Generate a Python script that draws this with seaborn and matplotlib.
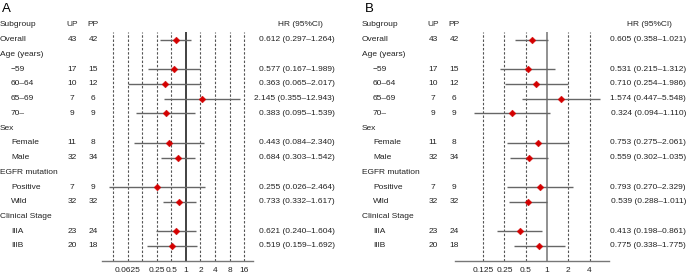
import numpy as np
import pandas as pd
import matplotlib
matplotlib.use("Agg")
import matplotlib.pyplot as plt
import matplotlib.transforms as mtransforms
import seaborn as sns

# ─────────────────────────────────────────────
# DATA
# ─────────────────────────────────────────────
labels = ["Overall", "Age (years)", "\u221259", "60\u201364", "65\u201369", "70\u2013",
          "Sex", "Female", "Male", "EGFR mutation", "Positive", "Wild",
          "Clinical Stage", "IIIA", "IIIB"]
indent = [False, False, True, True, True, True, False, True, True,
          False, True, True, False, True, True]
up = [43, None, 17, 10, 7, 9, None, 11, 32, None, 7, 32, None, 23, 20]
pp = [42, None, 15, 12, 6, 9, None, 8, 34, None, 9, 32, None, 24, 18]

hr_a = [0.612, None, 0.577, 0.363, 2.145, 0.383, None, 0.443, 0.684, None, 0.255, 0.733, None, 0.621, 0.519]
lo_a = [0.297, None, 0.167, 0.065, 0.355, 0.095, None, 0.084, 0.303, None, 0.026, 0.332, None, 0.240, 0.159]
hi_a = [1.264, None, 1.989, 2.017, 12.943, 1.539, None, 2.340, 1.542, None, 2.464, 1.617, None, 1.604, 1.692]

hr_b = [0.605, None, 0.531, 0.710, 1.574, 0.324, None, 0.753, 0.559, None, 0.793, 0.539, None, 0.413, 0.775]
lo_b = [0.358, None, 0.215, 0.254, 0.447, 0.094, None, 0.275, 0.302, None, 0.270, 0.288, None, 0.198, 0.338]
hi_b = [1.021, None, 1.312, 1.986, 5.548, 1.110, None, 2.061, 1.035, None, 2.329, 1.011, None, 0.861, 1.775]

ticks_a = [0.0625, 0.25, 0.5, 1, 2, 4, 8, 16]
tick_labels_a = ["0.0625", "0.25", "0.5", "1", "2", "4", "8", "16"]
grid_a = [2.0 ** k for k in range(-5, 5)]
ticks_b = [0.125, 0.25, 0.5, 1, 2, 4]
tick_labels_b = ["0.125", "0.25", "0.5", "1", "2", "4"]
grid_b = [2.0 ** k for k in range(-3, 3)]

W, H = 688, 275
FS = 6
sns.set_style("white")
plt.rcParams['font.family'] = ['Liberation Sans', 'DejaVu Sans']

fig = plt.figure(figsize=(W / 100, H / 100), dpi=100)

# row 0 = header, rows 1..15 = data rows
ROW_TOP = 0.48
ROW_BOT = 16.02


def panel(letter, x0, hr, lo, hi, ticks, tick_labels, grid, ax_px, xlim, cols, one_col):
    # axes box in pixels: left, right ; vertical from y=32 to y=261
    left, right = ax_px
    ax = fig.add_axes([left / W, (H - 261) / H, (right - left) / W, 229 / H])
    ax.set_xscale("log", base=2)
    ax.set_xlim(*xlim)
    ax.set_ylim(ROW_BOT, ROW_TOP)
    for g in grid:
        if g == 1:
            continue
        ax.axvline(g, color="#555555", lw=0.8, ls=(0, (2.2, 1.6)), zorder=1)
    ax.axvline(1, color=one_col, lw=1.3, zorder=2)

    df = pd.DataFrame({"row": np.arange(1, 16), "hr": hr, "lo": lo, "hi": hi}).dropna()
    ax.hlines(df["row"], df["lo"], df["hi"], color="#666666", lw=1.0, zorder=3)
    sns.scatterplot(data=df, x="hr", y="row", marker="D", s=12, color="#d40000",
                    edgecolor="#d40000", linewidth=0.3, ax=ax, zorder=4, legend=False)

    ax.set_xticks(ticks)
    ax.set_xticklabels(tick_labels, fontsize=FS, color="#222222")
    ax.minorticks_off()
    ax.tick_params(axis="x", length=0, pad=4)
    ax.set_yticks([])
    ax.set_xlabel("")
    ax.set_ylabel("")
    for s in ["top", "left", "right"]:
        ax.spines[s].set_visible(False)
    ax.spines["bottom"].set_color("#777777")
    ax.spines["bottom"].set_linewidth(1.0)

    # text columns: x in figure coords, y in row units
    tr = mtransforms.blended_transform_factory(fig.transFigure, ax.transData)
    x_lab, x_ind, x_up, x_pp, x_hr, x_hrh = cols
    kw = dict(fontsize=FS, color="#222222", va="center", transform=tr)
    fig.text(x0 / W, 1 - 8.5 / H, letter, fontsize=9.5, va="center", ha="left", color="black")
    ax.text(x_lab / W, 0, "Subgroup", ha="left", **kw)
    ax.text(x_up / W, 0, "UP", ha="center", **kw)
    ax.text(x_pp / W, 0, "PP", ha="center", **kw)
    ax.text(x_hrh / W, 0, "HR (95%CI)", ha="center", **kw)
    for i, lab in enumerate(labels):
        r = i + 1
        ax.text((x_ind if indent[i] else x_lab) / W, r, lab, ha="left", **kw)
        if up[i] is not None:
            ax.text(x_up / W, r, str(up[i]), ha="center", **kw)
            ax.text(x_pp / W, r, str(pp[i]), ha="center", **kw)
            ax.text(x_hr / W, r, f"{hr[i]:.3f} ({lo[i]:.3f}\u2013{hi[i]:.3f})", ha="right", **kw)
    return ax


panel("A", 2, hr_a, lo_a, hi_a, ticks_a, tick_labels_a, grid_a,
      (102, 253), (2 ** -5.75, 2 ** 4.6), (0, 11, 72, 93, 335, 300), "#333333")
panel("B", 365, hr_b, lo_b, hi_b, ticks_b, tick_labels_b, grid_b,
      (455, 609), (2 ** -4.32, 2 ** 2.91), (362, 373, 433, 454, 686, 649), "#888888")

fig.savefig("out.png", dpi=100)
